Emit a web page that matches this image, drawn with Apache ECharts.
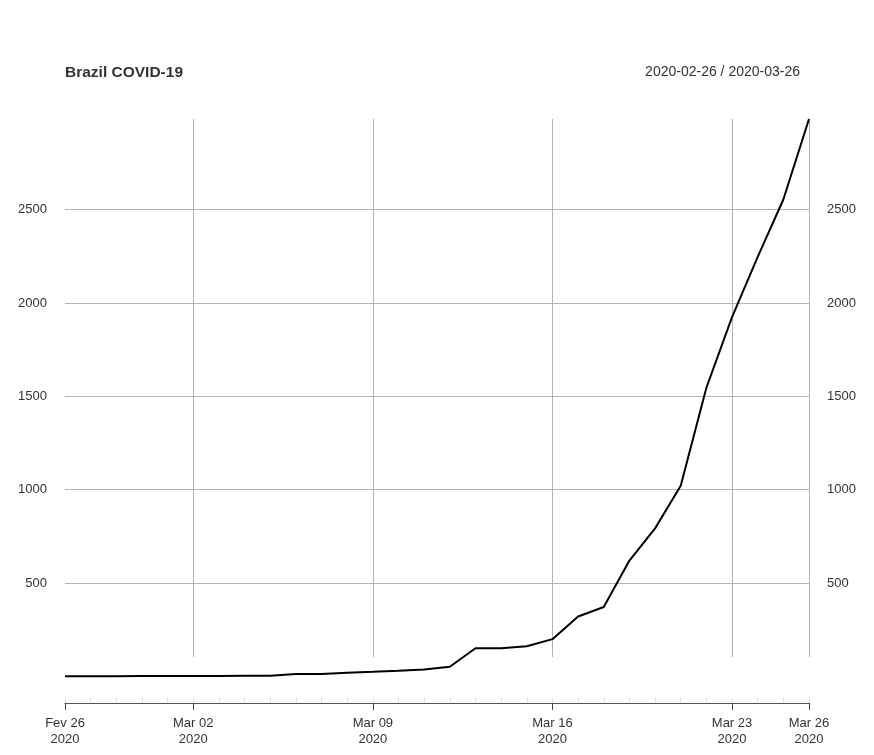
<!DOCTYPE html>
<html>
<head>
<meta charset="utf-8">
<script src="https://cdn.jsdelivr.net/npm/echarts@6/dist/echarts.min.js"></script>
<style>html,body{margin:0;padding:0;background:#fff}#c{width:874px;height:755px}</style>
</head>
<body>
<div id="c"></div>
<script>
const dates = ['2020-02-26','2020-02-27','2020-02-28','2020-02-29','2020-03-01','2020-03-02','2020-03-03','2020-03-04','2020-03-05','2020-03-06','2020-03-07','2020-03-08','2020-03-09','2020-03-10','2020-03-11','2020-03-12','2020-03-13','2020-03-14','2020-03-15','2020-03-16','2020-03-17','2020-03-18','2020-03-19','2020-03-20','2020-03-21','2020-03-22','2020-03-23','2020-03-24','2020-03-25','2020-03-26'];
const cases = [1,1,1,2,2,2,2,4,4,13,13,20,25,31,38,52,151,151,162,200,321,372,621,793,1021,1546,1924,2247,2554,2985];
const majorTickDates = ['2020-02-26','2020-03-02','2020-03-09','2020-03-16','2020-03-23','2020-03-26'];
const vGridDates = ['2020-03-02','2020-03-09','2020-03-16','2020-03-23','2020-03-26'];
const yTicks = [500,1000,1500,2000,2500];
const monthNames = ['Jan','Fev','Mar','Abr','Mai','Jun','Jul','Ago','Set','Out','Nov','Dez'];
const titleText = 'Brazil COVID-19';
const rangeText = '2020-02-26 / 2020-03-26';
const yMin = -142, yMax = 2985, vGridBottom = 104;

const ts = d => { const [y,m,dd] = d.split('-').map(Number); return Date.UTC(y, m-1, dd); };
const FONT = 'Liberation Sans';
const gridColor = '#b4b4b4';

const chart = echarts.init(document.getElementById('c'), null, {renderer: 'canvas'});
const yAxisCommon = {
  type: 'value', min: yMin, max: yMax,
  axisLine: {show: false}, axisTick: {show: false}, splitLine: {show: false},
  axisLabel: {customValues: yTicks, color: '#333', fontFamily: FONT, fontSize: 13, margin: 18, formatter: v => String(v)}
};
const xMin = ts(dates[0]), xMax = ts(dates[dates.length-1]);
chart.setOption({
  animation: false,
  textStyle: {fontFamily: FONT},
  title: [
    {text: titleText, left: 65, top: 65, padding: 0, textStyle: {fontFamily: FONT, fontSize: 15.5, fontWeight: 'bold', color: '#333'}},
    {text: rangeText, right: 74, top: 65, padding: 0, textStyle: {fontFamily: FONT, fontSize: 14, fontWeight: 'normal', color: '#333'}}
  ],
  grid: {left: 65, right: 65, top: 119, bottom: 52, containLabel: false},
  xAxis: [
    {
      type: 'value', min: xMin, max: xMax, scale: true,
      axisLine: {show: true, onZero: false, lineStyle: {color: '#555', width: 1}},
      axisTick: {show: true, customValues: majorTickDates.map(ts), length: 7, inside: false, lineStyle: {color: '#444'}},
      axisLabel: {
        customValues: majorTickDates.map(ts), color: '#333', fontFamily: FONT, fontSize: 13, lineHeight: 16, margin: 12,
        hideOverlap: false, showMinLabel: true, showMaxLabel: true,
        formatter: v => { const d = new Date(v); return monthNames[d.getUTCMonth()] + ' ' + String(d.getUTCDate()).padStart(2,'0') + '\n' + d.getUTCFullYear(); }
      },
      splitLine: {show: false}
    },
    {
      type: 'value', min: xMin, max: xMax, scale: true, position: 'bottom', offset: 0,
      axisLine: {show: false, onZero: false},
      axisTick: {show: true, customValues: dates.map(ts), length: 5, inside: true, lineStyle: {color: '#e2e2e2'}},
      axisLabel: {show: false}, splitLine: {show: false}
    }
  ],
  yAxis: [
    Object.assign({position: 'left'}, yAxisCommon),
    Object.assign({position: 'right'}, yAxisCommon)
  ],
  series: [
    {
      name: 'grid', type: 'line', data: [], xAxisIndex: 0, yAxisIndex: 0, z: 1, silent: true,
      markLine: {
        silent: true, symbol: ['none','none'], label: {show: false}, animation: false,
        lineStyle: {color: gridColor, width: 1, type: 'solid'},
        data: yTicks.map(v => ({yAxis: v})).concat(
          vGridDates.map(d => [{coord: [ts(d), vGridBottom]}, {coord: [ts(d), yMax]}])
        )
      }
    },
    {
      name: 'Brazil', type: 'line', xAxisIndex: 0, yAxisIndex: 0, z: 5,
      data: dates.map((d,i) => [ts(d), cases[i]]),
      showSymbol: false, symbol: 'none',
      lineStyle: {color: '#000', width: 2}
    }
  ]
});
</script>
</body>
</html>
